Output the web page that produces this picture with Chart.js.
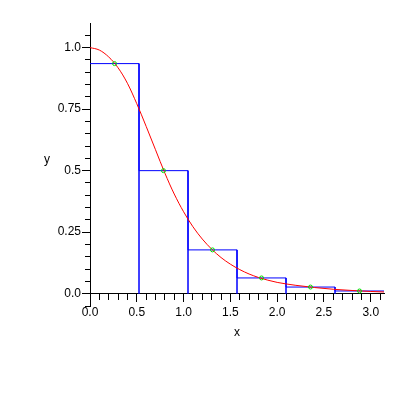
<!DOCTYPE html>
<html>
<head>
<meta charset="utf-8">
<script src="https://cdn.jsdelivr.net/npm/chart.js@4/dist/chart.umd.min.js"></script>
<style>
  body { margin: 0; background: #fff; }
</style>
</head>
<body>
<canvas id="plot" width="398" height="398"></canvas>
<script>
// midpoint boxes
const binEdges = [0, 0.5236, 1.0472, 1.5708, 2.0944, 2.618, 3.1416];
const midpoints = [0.262, 0.785, 1.309, 1.833, 2.356, 2.88];
const boxHeights = [0.935, 0.5, 0.178, 0.064, 0.027, 0.011];

// red curve
const curveX = [0, 0.1, 0.2, 0.3, 0.4, 0.5, 0.6, 0.7, 0.8, 0.9, 1.0, 1.1, 1.2, 1.3, 1.4, 1.5,
  1.6, 1.7, 1.8, 1.9, 2.0, 2.2, 2.4, 2.6, 2.8, 3.0, 3.1416];
const curveY = [1.0, 0.99, 0.962, 0.918, 0.855, 0.772, 0.68, 0.585, 0.49, 0.405, 0.333, 0.272, 0.222, 0.181, 0.147, 0.12,
  0.098, 0.08, 0.066, 0.055, 0.046, 0.034, 0.025, 0.018, 0.013, 0.009, 0.007];

const xTickLabels = ['0.0', '0.5', '1.0', '1.5', '2.0', '2.5', '3.0'];
const yTickLabels = ['0.0', '0.25', '0.5', '0.75', '1.0'];

const xMinorTicks = [];
for (let k = 0; k <= 31; k++) xMinorTicks.push(k / 10);
const yMinorTicks = [];
for (let k = -1; k <= 21; k++) yMinorTicks.push(k / 20);

// outline of the boxes; the left edge at x=0 and the bottoms are left to the axes
let outline = [];
for (let i = 0; i < boxHeights.length; i++) {
  outline.push({x: binEdges[i], y: boxHeights[i]});
  outline.push({x: binEdges[i + 1], y: boxHeights[i]});
  outline.push({x: binEdges[i + 1], y: 0});
}

const font = {family: 'Liberation Sans', size: 12};

function fixWidth(w) {
  return function(scale) { scale.width = w; };
}

function setTicks(values) {
  return function(scale) { scale.ticks = values.map(v => ({value: v})); };
}

const axisTitles = {
  id: 'axisTitles',
  afterDraw(chart) {
    const ctx = chart.ctx;
    const area = chart.chartArea;
    ctx.save();
    ctx.fillStyle = '#000';
    ctx.font = '12px "Liberation Sans"';
    ctx.textAlign = 'center';
    ctx.textBaseline = 'middle';
    ctx.fillText('x', (area.left + area.right) / 2, 333);
    ctx.fillText('y', 47, 160);
    ctx.restore();
  }
};

new Chart(document.getElementById('plot'), {
  type: 'scatter',
  data: {
    datasets: [{
      data: midpoints.map((m, i) => ({x: m, y: boxHeights[i]})),
      showLine: false,
      pointStyle: 'circle',
      pointRadius: 2,
      pointBorderWidth: 1,
      pointBorderColor: '#00e000',
      pointBackgroundColor: 'rgba(0,0,0,0)',
      order: 0
    }, {
      data: curveX.map((x, i) => ({x: x, y: curveY[i]})),
      showLine: true,
      borderColor: '#ff0000',
      borderWidth: 1,
      pointRadius: 0,
      cubicInterpolationMode: 'monotone',
      order: 1
    }, {
      data: outline,
      showLine: true,
      borderColor: '#0000ff',
      borderWidth: 1,
      pointRadius: 0,
      tension: 0,
      order: 2
    }]
  },
  options: {
    responsive: false,
    animation: false,
    devicePixelRatio: 1,
    events: [],
    layout: {padding: {left: 30, right: 14, top: 23, bottom: 92}},
    plugins: {legend: {display: false}, tooltip: {enabled: false}},
    scales: {
      x: {
        type: 'linear', min: 0, max: Math.PI,
        position: {y: 0},
        afterBuildTicks: setTicks(xMinorTicks),
        ticks: {display: false},
        grid: {drawOnChartArea: false, tickLength: 6, color: '#000'},
        border: {color: '#000', width: 1}
      },
      xMajor: {
        type: 'linear', axis: 'x', min: 0, max: Math.PI,
        position: {y: 0},
        afterBuildTicks: setTicks(xTickLabels.map(Number)),
        ticks: {
          color: '#000', font: font, padding: 4, autoSkip: false, maxRotation: 0,
          callback: (v, i) => xTickLabels[i]
        },
        grid: {drawOnChartArea: false, tickLength: 8, color: '#000'},
        border: {display: false}
      },
      y: {
        type: 'linear', min: -0.05, max: 1.1,
        position: 'left',
        weight: 0,
        afterFit: fixWidth(0),
        afterBuildTicks: setTicks(yMinorTicks),
        ticks: {display: false},
        grid: {drawOnChartArea: false, tickLength: 5, color: '#000'},
        border: {color: '#000', width: 1}
      },
      yMajor: {
        type: 'linear', axis: 'y', min: -0.05, max: 1.1,
        position: 'left',
        weight: 1,
        afterFit: fixWidth(60),
        afterBuildTicks: setTicks(yTickLabels.map(Number)),
        ticks: {
          color: '#000', font: font, padding: 1, autoSkip: false,
          callback: (v, i) => yTickLabels[i]
        },
        grid: {drawOnChartArea: false, tickLength: 8, color: '#000'},
        border: {display: false}
      }
    }
  },
  plugins: [axisTitles]
});
</script>
</body>
</html>
